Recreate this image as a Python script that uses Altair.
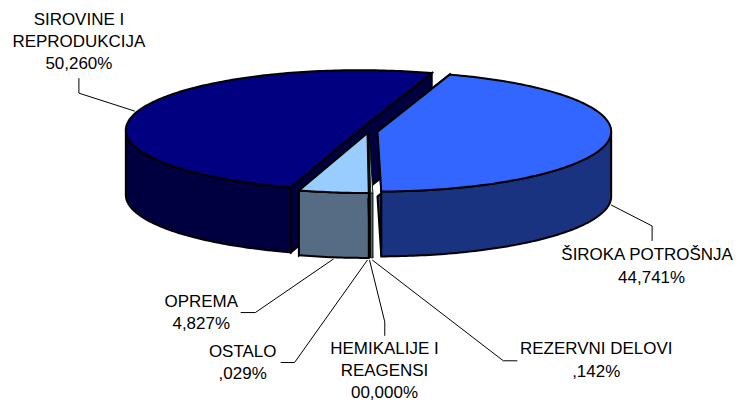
import numpy as np
import pandas as pd
import altair as alt

# Data, clockwise from the back of the pie
categories = ["ŠIROKA POTROŠNJA", "REZERVNI DELOVI", "HEMIKALIJE I REAGENSI", "OSTALO", "OPREMA", "SIROVINE I REPRODUKCIJA"]
shares = [44.741, 0.142, 0.000, 0.029, 4.827, 50.260]

# Style and layout
top_colors = ["#3366FF", "#CCFFFF", "#FFFFFF", "#CCFFFF", "#99CCFF", "#000080"]
side_colors = ["#1A3380", "#668080", "#808080", "#668080", "#566C85", "#000040"]
centers = [(378, 131.5), (369.5, 133), (369, 133), (368.5, 133), (368, 133), (360, 130)]
edge_widths = [2, 0.8, 0.8, 0.8, 2, 2]
draw_order = [5, 0, 4, 1, 2, 3]
RX, RY, DEPTH, START = 234, 60, 65, 72.0

label_lines = [
    [("ŠIROKA POTROŠNJA", 648, 260), ("44,741%", 652.5, 283)],
    [("REZERVNI DELOVI", 597, 354), (",142%", 597, 377)],
    [("HEMIKALIJE I", 385, 354), ("REAGENSI", 385, 376), ("00,000%", 385, 398)],
    [("OSTALO", 243, 357), (",029%", 243, 379)],
    [("OPREMA", 201.5, 307), ("4,827%", 201.5, 329)],
    [("SIROVINE I", 79, 25), ("REPRODUKCIJA", 79, 47), ("50,260%", 79, 69)],
]
leaders = [
    [(612, 205), (653, 226), (653, 241)],
    [(372.7, 260), (504, 361), (518, 361)],
    [(370, 260), (385.3, 322), (385.3, 336)],
    [(368, 260), (295, 362.7), (281, 362.7)],
    [(334, 259), (255.7, 312.7), (241, 312.7)],
    [(135, 111), (79, 93), (79, 78)],
]

W, H = 726, 390
x_scale = alt.Scale(domain=[8, 8 + W], range=[0, W], nice=False, zero=False)
y_scale = alt.Scale(domain=[8 + H, 8], range=[H, 0], nice=False, zero=False)


def rim(c, t):
    t = np.radians(t)
    return c[0] + RX * np.cos(t), c[1] - RY * np.sin(t)


def arc(c, t0, t1, dz=0.0):
    n = max(2, int(abs(t1 - t0)) + 2)
    ts = np.linspace(t0, t1, n)
    xs, ys = rim(c, ts)
    return list(zip(xs, ys + dz))


def polygon(pts, fill, width):
    df = pd.DataFrame(pts, columns=["x", "y"]).reset_index()
    return alt.Chart(df).mark_line(
        interpolate="linear-closed", fill=fill, stroke="#000000", strokeWidth=width
    ).encode(
        x=alt.X("x:Q", scale=x_scale, axis=None),
        y=alt.Y("y:Q", scale=y_scale, axis=None),
        order="index:Q",
    )


# Slice angles from the shares
total = sum(shares)
angles = []
t = START
for s in shares:
    t_next = t - s / total * 360
    angles.append((t, t_next))
    t = t_next

layers = []
for i in draw_order:
    if shares[i] == 0:
        continue
    c = centers[i]
    t0, t1 = angles[i]
    col_top, col_side, w = top_colors[i], side_colors[i], edge_widths[i]
    # Cut faces
    a = rim(c, t0)
    b = rim(c, t1)
    cut = [c, a, (a[0], a[1] + DEPTH), (c[0], c[1] + DEPTH), (b[0], b[1] + DEPTH), b]
    layers.append(polygon(cut, col_side, w))
    # Outer wall: only the part facing the viewer (sin t < 0)
    for shift in (0, -360):
        l2, h2 = max(min(t0, t1), -180.0 + shift), min(max(t0, t1), 0.0 + shift)
        if h2 > l2:
            upper = arc(c, h2, l2)
            lower = arc(c, l2, h2, DEPTH)
            layers.append(polygon(upper + lower, col_side, w))
    # Top
    layers.append(polygon([c] + arc(c, t0, t1), col_top, w))

# Leader lines
rows = []
for i, pts in enumerate(leaders):
    for k, (x, y) in enumerate(pts):
        rows.append({"id": i, "k": k, "x": x, "y": y})
leader_layer = alt.Chart(pd.DataFrame(rows)).mark_line(color="#000000", strokeWidth=1).encode(
    x=alt.X("x:Q", scale=x_scale, axis=None),
    y=alt.Y("y:Q", scale=y_scale, axis=None),
    detail="id:N",
    order="k:Q",
)

# Labels
rows = []
for lines in label_lines:
    for txt, x, y in lines:
        rows.append({"x": x, "y": y, "t": txt})
text_layer = alt.Chart(pd.DataFrame(rows)).mark_text(
    font="Liberation Sans", fontSize=17, align="center", baseline="alphabetic", color="#000000"
).encode(
    x=alt.X("x:Q", scale=x_scale, axis=None),
    y=alt.Y("y:Q", scale=y_scale, axis=None),
    text="t:N",
)

chart = alt.layer(leader_layer, *layers, text_layer).properties(
    width=W, height=H, padding=0, background="#FFFFFF"
).configure_view(stroke=None)

chart.save("out.html", embed_options={"renderer": "svg", "actions": False})
